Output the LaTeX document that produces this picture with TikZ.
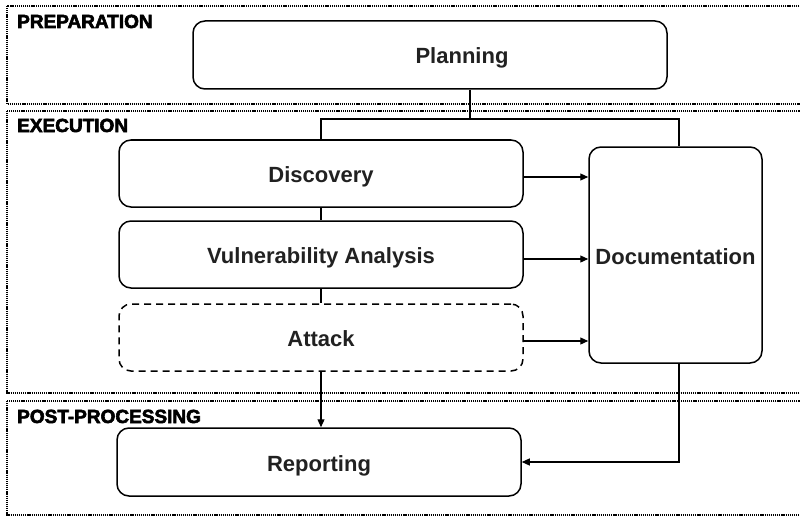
\documentclass[tikz,border=0pt]{standalone}
\usepackage{fontspec}
\setmainfont{Liberation Sans}
\newfontfamily\phasefont[FakeBold=3]{Liberation Sans Bold}
\usetikzlibrary{arrows.meta}

\begin{document}
\begin{tikzpicture}[x=1pt,y=-1pt,
		stage/.style={draw,line width=1.5pt,rounded corners=12pt,minimum width=404pt,minimum height=67pt,inner sep=0pt,text height=18pt,text depth=0pt,text=black!87,font=\fontsize{22}{26}\selectfont\bfseries},
		phase/.style={draw,line width=1.2pt,dash pattern=on 1.2pt off 0.9pt},
		phaselabel/.style={anchor=base west,inner sep=0pt,font=\fontsize{19}{21}\selectfont\phasefont},
		link/.style={line width=1.2pt},
		flow/.style={line width=1.2pt,-{Triangle[length=8pt,width=7pt]}}]
		\clip (0,0) rectangle (800,516);

		% phases
		\draw[phase] (7,6) rectangle (830,104);
		\draw[phase] (7,111) rectangle (830,393);
		\draw[phase] (7,401) rectangle (830,515);
		\node[phaselabel] (prep) at (17,28) {PREPARATION};
		\node[phaselabel] (exec) at (17,132) {EXECUTION};
		\node[phaselabel] (post) at (17,423) {POST-PROCESSING};

		% stages
		\node[stage,minimum width=474pt,minimum height=68pt,label={[xshift=32pt,inner sep=0pt,text height=18pt,text depth=0pt,text=black!87,font=\fontsize{22}{26}\selectfont\bfseries]center:Planning}] (plan) at (430,55) {};
		\node[stage] (disc) at (321,173.5) {Discovery};
		\node[stage] (vuln) at (321,254.5) {Vulnerability Analysis};
		\node[stage,dashed,dash pattern=on 7pt off 5pt] (atk) at (321,337.5) {Attack};
		\node[stage,minimum height=68pt] (rep) at (319,462) {Reporting};
		\node[stage,minimum width=173pt,minimum height=216pt] (doc) at (675.5,255) {Documentation};

		\coordinate (fork) at (470,119);
		\draw[link] (plan.south -| fork) -- (fork);
		\draw[link] (disc.north) |- (fork) -| ([xshift=3.5pt]doc.north);
		\draw[link] (disc) -- (vuln);
		\draw[link] (vuln) -- (atk);
		\draw[flow] (atk.south) -- ([xshift=2pt]rep.north);

		\draw[flow] ([yshift=-3.5pt]disc.east) -- ([yshift=-3.5pt]disc.east -| doc.west);
		\draw[flow] ([yshift=-4.5pt]vuln.east) -- ([yshift=-4.5pt]vuln.east -| doc.west);
		\draw[flow] ([yshift=-3.5pt]atk.east) -- ([yshift=-3.5pt]atk.east -| doc.west);
		\draw[flow] ([xshift=3.5pt]doc.south) |- (rep.east);
\end{tikzpicture}
\end{document}
